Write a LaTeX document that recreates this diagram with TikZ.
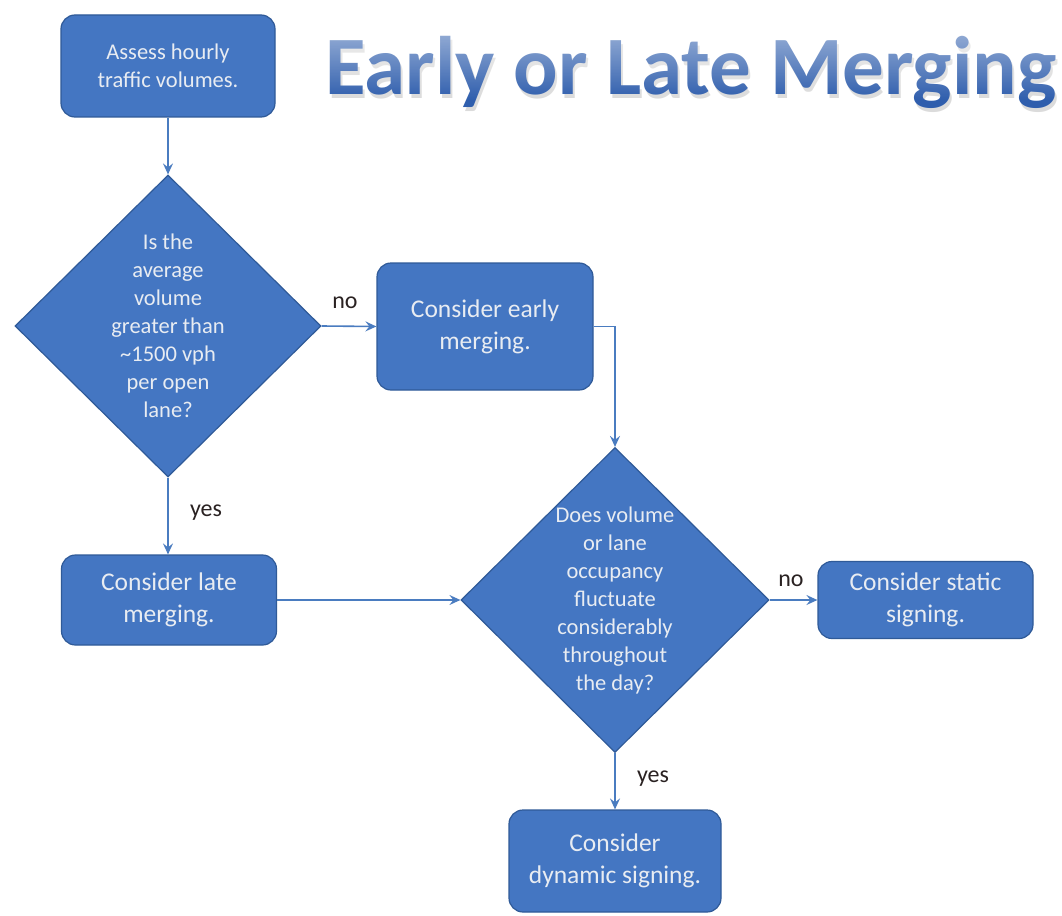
\documentclass[tikz,border=0pt]{standalone}
\usepackage{fontspec}
\setmainfont{Carlito}
\usetikzlibrary{shapes.geometric,arrows.meta,fadings}

\definecolor{boxfill}{HTML}{4476C2}
\definecolor{boxedge}{HTML}{2F5A98}
\definecolor{boxtext}{HTML}{E8ECF2}
\definecolor{linkblue}{HTML}{4A7CC0}
\definecolor{labeltext}{HTML}{2A2222}
\definecolor{titleblue}{HTML}{2F5EAD}

\begin{document}
\begin{tikzpicture}[x=1pt,y=-1pt,
  stepbox/.style={draw=boxedge, line width=1.2pt, fill=boxfill, rounded corners=14pt,
    text=boxtext, align=center, inner sep=0pt, font=\fontsize{25.5}{32}\selectfont},
  decision/.style={diamond, draw=boxedge, line width=1.2pt, fill=boxfill, inner sep=0pt},
  dtext/.style={text=boxtext, align=center, inner sep=0pt, font=\fontsize{22.5}{28}\selectfont},
  link/.style={draw=linkblue, line width=1.6pt, -{Stealth[length=11pt,width=10pt,inset=4pt]}},
  answer/.style={text=labeltext, inner sep=0pt, font=\fontsize{24}{28}\selectfont},
  titletext/.style={anchor=base west, inner sep=0pt, font=\fontsize{83}{90}\selectfont\bfseries}
]
\useasboundingbox (0,0) rectangle (1062,915);
\fill[white] (0,0) rectangle (1062,915);

% title with a soft drop shadow; a white veil fading downwards lightens the upper part
\node[titletext, text=black!50, text opacity=0.28] (title-shadow) at (327,99) {Early or Late Merging};
\node[titletext, text=titleblue] (title) at (325,95) {Early or Late Merging};
\fill[white, fill opacity=0.5, path fading=south] (320,30) rectangle (1062,100);

% process boxes
\node[stepbox, minimum width=214pt, minimum height=102pt, font=\fontsize{22.5}{28}\selectfont]
  (assess) at (168,66) {Assess hourly\\traffic volumes.};
\node[stepbox, minimum width=216pt, minimum height=127pt] (early) at (485,326.5) {Consider early\\merging.};
\node[stepbox, minimum width=215pt, minimum height=90pt] (late) at (169,600) {Consider late\\merging.};
\node[stepbox, minimum width=215pt, minimum height=77pt] (static) at (925.5,600) {Consider static\\signing.};
\node[stepbox, minimum width=212pt, minimum height=102pt] (dynamic) at (615,861) {Consider\\dynamic signing.};

% decisions
\node[decision, minimum width=306pt, minimum height=302pt] (volume) at (168,326) {};
\node[dtext] (volume-text) at (volume.center)
  {Is the\\average\\volume\\greater than\\\textasciitilde1500 vph\\per open\\lane?};
\node[decision, minimum width=308pt, minimum height=305pt] (fluct) at (615,600) {};
\node[dtext] (fluct-text) at (fluct.center)
  {Does volume\\or lane\\occupancy\\fluctuate\\considerably\\throughout\\the day?};

% connectors
\draw[link] (assess.south) -- (volume.north);
\draw[link] (volume.east) -- (early.west);
\draw[link] (volume.south) -- (volume.south |- late.north);
\draw[link] (early.east) -| (fluct.north);
\draw[link] (late.east) -- (fluct.west);
\draw[link] (fluct.east) -- (static.west);
\draw[link] (fluct.south) -- (fluct.south |- dynamic.north);

% answers
\node[answer] (no1) at (345,303) {no};
\node[answer] (yes1) at (206,513) {yes};
\node[answer] (no2) at (791,581) {no};
\node[answer] (yes2) at (653,779) {yes};
\end{tikzpicture}
\end{document}
